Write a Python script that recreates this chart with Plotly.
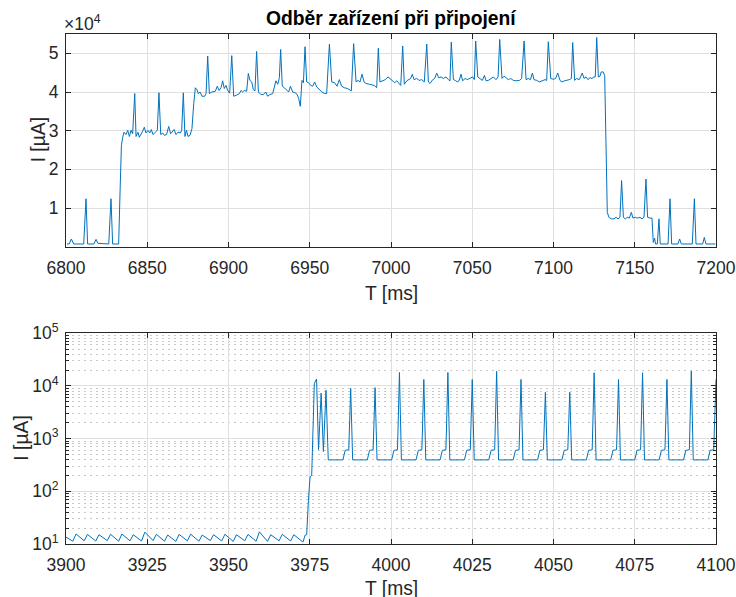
import plotly.graph_objects as go

# ---------------- data: top panel (linear) ----------------
t_top = [6800.6, 6802.0, 6803.3, 6804.7, 6810.9, 6812.3, 6813.3, 6817.2, 6818.5, 6819.7,
         6826.3, 6827.7, 6828.7, 6832.4, 6833.4, 6834.1, 6834.9, 6835.7, 6836.9, 6838.0,
         6839.0, 6840.0, 6841.0, 6842.3, 6843.1, 6844.3, 6845.1, 6846.4, 6847.2, 6848.2,
         6849.2, 6850.5, 6851.5, 6852.5, 6853.5, 6855.0, 6856.2, 6857.2, 6858.3, 6859.5,
         6860.5, 6861.9, 6863.2, 6864.4, 6865.4, 6866.5, 6867.7, 6868.9, 6870.4, 6871.2,
         6872.2, 6873.2, 6874.1, 6875.1, 6876.3, 6877.5, 6878.6, 6879.6, 6880.6, 6881.4,
         6882.5, 6883.7, 6885.3, 6886.2, 6887.2, 6888.2, 6889.8, 6891.9, 6893.1, 6894.2,
         6895.4, 6896.4, 6897.4, 6898.5, 6899.5, 6900.7, 6902.0, 6903.2, 6905.0, 6906.7,
         6907.7, 6908.7, 6909.7, 6911.2, 6912.2, 6913.2, 6914.3, 6915.3, 6916.3, 6917.3,
         6918.4, 6919.8, 6921.4, 6922.9, 6924.1, 6925.3, 6927.2, 6928.2, 6929.2, 6930.3,
         6931.3, 6932.1, 6933.1, 6934.4, 6935.8, 6937.0, 6938.1, 6939.5, 6941.0, 6942.2,
         6943.2, 6944.2, 6945.2, 6946.1, 6947.1, 6948.1, 6949.3, 6950.6, 6951.8, 6953.0,
         6954.3, 6955.9, 6957.5, 6959.2, 6960.4, 6962.1, 6963.5, 6965.3, 6966.8, 6968.2,
         6969.6, 6971.3, 6973.3, 6975.6, 6977.0, 6978.5, 6979.7, 6980.9, 6982.2, 6983.4,
         6984.6, 6986.7, 6989.7, 6991.2, 6992.2, 6993.2, 6994.9, 6996.5, 6998.2, 6999.4,
         7001.0, 7002.3, 7003.5, 7004.7, 7006.0, 7007.2, 7008.2, 7009.7, 7010.9, 7012.1,
         7013.1, 7014.2, 7015.8, 7017.4, 7018.9, 7020.5, 7022.0, 7023.0, 7024.0, 7025.7,
         7026.9, 7028.1, 7029.3, 7030.8, 7032.2, 7033.9, 7035.3, 7036.3, 7037.1, 7038.4,
         7039.6, 7040.8, 7041.9, 7043.1, 7044.1, 7045.6, 7047.0, 7048.6, 7050.3, 7051.3,
         7052.1, 7053.4, 7054.8, 7056.2, 7057.5, 7058.5, 7059.9, 7061.4, 7063.0, 7064.6,
         7065.9, 7066.9, 7068.3, 7069.6, 7070.8, 7072.2, 7073.7, 7075.3, 7077.0, 7079.0,
         7080.4, 7081.9, 7083.1, 7084.5, 7085.8, 7087.0, 7088.0, 7089.7, 7091.3, 7092.7,
         7094.8, 7095.8, 7096.8, 7098.3, 7099.9, 7101.3, 7102.6, 7104.0, 7105.2, 7106.9,
         7108.5, 7109.7, 7111.0, 7111.8, 7113.0, 7114.2, 7115.9, 7117.7, 7118.8, 7120.0,
         7121.2, 7122.5, 7123.7, 7124.9, 7125.7, 7126.6, 7127.6, 7128.6, 7129.4, 7130.5,
         7131.5, 7132.5, 7133.1, 7134.1, 7135.6, 7137.2, 7138.5, 7139.7, 7140.9, 7141.9,
         7143.0, 7144.2, 7145.4, 7146.7, 7147.9, 7148.9, 7150.4, 7151.6, 7153.2, 7154.5,
         7155.7, 7156.9, 7157.9, 7159.4, 7160.6, 7161.4, 7162.2, 7162.8, 7163.9, 7164.9,
         7165.7, 7170.5, 7171.7, 7172.7, 7176.6, 7177.6, 7178.7, 7185.4, 7186.7, 7187.7,
         7191.8, 7192.8, 7193.8, 7199.6]
i_top = [700, 700, 2000, 700, 700, 12400, 700, 700, 1900, 860,
         700, 12400, 700, 700, 16200, 26200, 28300, 29600, 29000, 30100,
         28500, 30100, 29200, 39600, 28500, 29600, 28300, 29200, 29900, 30900,
         29400, 30100, 29400, 30300, 29000, 29600, 30100, 39800, 29000, 29400,
         28800, 29000, 31100, 29200, 29600, 30300, 29000, 29600, 29400, 30100,
         39800, 28500, 30100, 28500, 28800, 30500, 37000, 41100, 40600, 39600,
         40000, 38900, 38900, 39600, 49300, 39600, 40000, 40200, 41500, 40400,
         41100, 42900, 40900, 41700, 40400, 39700, 49400, 38900, 39200, 39600,
         40400, 40000, 40400, 40200, 44800, 43000, 42600, 40600, 40300, 50500,
         40000, 39400, 39300, 40000, 38900, 39300, 39600, 41100, 42900, 42000,
         43700, 51000, 41500, 41100, 40600, 40000, 41500, 40000, 39800, 39400,
         38300, 36300, 43000, 42400, 51700, 42600, 42400, 41700, 41500, 42600,
         41300, 40600, 40000, 39600, 39600, 52400, 42600, 42400, 41500, 43200,
         41500, 41100, 40900, 40300, 52500, 42600, 43000, 42600, 44600, 42600,
         42200, 42000, 41700, 41100, 51300, 42600, 43000, 43200, 43900, 43400,
         43000, 42400, 42900, 42200, 41700, 51900, 42000, 42900, 43200, 43500,
         44600, 43200, 43500, 43000, 43200, 42600, 52400, 42600, 42200, 43200,
         43500, 44900, 43700, 43900, 43500, 43900, 43200, 42900, 52900, 43200,
         43000, 42600, 42900, 44600, 42900, 43500, 43200, 43500, 43900, 43200,
         53200, 43900, 43500, 43000, 44300, 42900, 43000, 43500, 43900, 43200,
         43900, 53600, 43500, 44100, 43700, 43200, 43500, 43000, 42900, 43000,
         43500, 53200, 43200, 43500, 43200, 44900, 43200, 43000, 42600, 42900,
         43200, 43000, 53000, 43500, 43300, 43500, 44900, 43000, 42600, 42900,
         43000, 43200, 43500, 52800, 43000, 43500, 43200, 44900, 43500, 43900,
         43200, 43700, 43500, 43900, 43900, 54100, 43900, 44100, 45200, 45200,
         44300, 18000, 8900, 7600, 7200, 7200, 7600, 7200, 7600, 17100,
         7600, 7200, 7600, 7400, 8900, 7400, 7600, 7400, 7600, 7200,
         7600, 17500, 7600, 7400, 7400, 1100, 2200, 700, 700, 7200,
         700, 700, 12400, 700, 700, 2000, 700, 700, 12400, 700,
         700, 2400, 700, 700]

# ---------------- data: bottom panel (log) ----------------
t_bot = [3900.0, 3902.1, 3903.1, 3905.6, 3906.6, 3909.15, 3910.15, 3912.7, 3913.7, 3916.2,
         3917.2, 3919.7, 3920.7, 3923.25, 3924.25, 3926.8, 3927.8, 3930.3, 3931.3, 3933.8,
         3934.8, 3937.35, 3938.35, 3940.9, 3941.9, 3944.4, 3945.4, 3947.9, 3948.9, 3951.45,
         3952.45, 3955.0, 3956.0, 3958.5, 3959.5, 3962.0, 3963.0, 3965.55, 3966.55, 3969.1,
         3970.1, 3972.9, 3973.6, 3974.05, 3974.6, 3975.1, 3975.6, 3976.4, 3976.9, 3977.1,
         3977.7, 3978.5, 3979.2, 3980.0, 3980.7,
         3985.2, 3985.9, 3987.0, 3987.6, 3988.2,
         3992.7, 3993.4, 3994.5, 3995.1, 3995.7,
         4000.2, 4000.9, 4002.0, 4002.6, 4003.2,
         4007.7, 4008.4, 4009.5, 4010.1, 4010.7,
         4015.1, 4015.8, 4016.9, 4017.5, 4018.1,
         4022.6, 4023.3, 4024.4, 4025.0, 4025.6,
         4030.1, 4030.8, 4031.9, 4032.5, 4033.1,
         4037.6, 4038.3, 4039.4, 4040.0, 4040.6,
         4045.1, 4045.8, 4046.9, 4047.5, 4048.1,
         4052.6, 4053.3, 4054.4, 4055.0, 4055.6,
         4060.1, 4060.8, 4061.9, 4062.5, 4063.1,
         4067.6, 4068.3, 4069.4, 4070.0, 4070.6,
         4075.0, 4075.7, 4076.8, 4077.4, 4078.0,
         4082.5, 4083.2, 4084.3, 4084.9, 4085.5,
         4090.0, 4090.7, 4091.8, 4092.4, 4093.0,
         4097.5, 4098.2, 4099.3, 4100.0]
i_bot = [13.5, 11.3, 15.5, 11.5, 15.2, 11.4, 15.0, 11.6, 15.3, 11.3,
         15.5, 11.5, 15.0, 11.4, 16.8, 11.6, 15.3, 11.3, 14.8, 11.2,
         15.2, 11.5, 15.4, 11.3, 14.8, 11.6, 15.0, 11.4, 15.3, 11.2,
         15.0, 11.5, 15.2, 11.3, 17.0, 11.2, 15.0, 11.5, 15.3, 11.4,
         15.0, 10.9, 14.8, 15.0, 68, 189, 200, 11000, 13000, 13500,
         620, 7300, 570, 8300, 395,
         395, 600, 615, 9000, 395,
         395, 600, 615, 9300, 395,
         395, 600, 615, 18000, 395,
         395, 600, 615, 13300, 395,
         395, 600, 615, 18000, 395,
         395, 600, 615, 13300, 395,
         395, 600, 615, 18900, 395,
         395, 600, 615, 13300, 395,
         395, 600, 615, 7600, 395,
         395, 600, 615, 7600, 395,
         395, 600, 615, 17800, 395,
         395, 600, 615, 13300, 395,
         395, 600, 615, 17800, 395,
         395, 600, 615, 13300, 395,
         395, 600, 615, 19200, 395,
         395, 600, 615, 13300]

top_yticks = [10000, 20000, 30000, 40000, 50000]
top_ytext = ["1", "2", "3", "4", "5"]
bot_yticks = [10, 100, 1000, 10000, 100000]
bot_ytext = ["10<sup>1</sup>", "10<sup>2</sup>", "10<sup>3</sup>", "10<sup>4</sup>", "10<sup>5</sup>"]
title_text = "Odběr zařízení při připojení"
xlabel = "T [ms]"
ylabel = "I [µA]"

# ---------------- figure ----------------
LINE = "#0072BD"
AX = "#262626"
GRID = "#dfdfdf"
MINOR = "#c8c8c8"
FONT = "Liberation Sans, Arial, Helvetica, sans-serif"
TICKSZ = 17.5
LABSZ = 19.3

W, H = 736, 597
ML, MR, MT, MB = 66, 20, 34, 53
ph = H - MT - MB
top_lo = (H - MB - 246.7) / ph
bot_hi = (H - MB - 333.3) / ph

fig = go.Figure()
fig.add_trace(go.Scatter(x=t_top, y=i_top, mode="lines",
                         line=dict(color=LINE, width=1), xaxis="x", yaxis="y",
                         showlegend=False, hoverinfo="skip"))
fig.add_trace(go.Scatter(x=t_bot, y=i_bot, mode="lines",
                         line=dict(color=LINE, width=1), xaxis="x2", yaxis="y2",
                         showlegend=False, hoverinfo="skip"))

common = dict(showline=True, linecolor=AX, linewidth=1, mirror="allticks",
              ticks="inside", tickcolor=AX, ticklen=5, tickwidth=1, automargin=False,
              showgrid=True, gridcolor=GRID, gridwidth=1, zeroline=False,
              tickfont=dict(family=FONT, size=TICKSZ, color=AX))

fig.update_layout(
    width=W, height=H, autosize=False, paper_bgcolor="white", plot_bgcolor="white",
    margin=dict(l=ML, r=MR, t=MT, b=MB, autoexpand=False),
    font=dict(family=FONT, color=AX),
    xaxis=dict(domain=[0, 1], anchor="y", range=[6800, 7200], tick0=6800, dtick=50,
               ticklabelstandoff=5, **common),
    yaxis=dict(domain=[top_lo, 1], anchor="x", range=[0, 55000],
               tickmode="array", tickvals=top_yticks, ticktext=top_ytext,
               ticklabelstandoff=3, **common),
    xaxis2=dict(domain=[0, 1], anchor="y2", range=[3900, 4100], tick0=3900, dtick=25,
                ticklabelstandoff=5, **common),
    yaxis2=dict(domain=[0, bot_hi], anchor="x2", type="log", range=[1, 5],
                tickmode="array", tickvals=bot_yticks, ticktext=bot_ytext,
                ticklabelstandoff=3,
                minor=dict(dtick="D1", ticks="inside", ticklen=3, tickcolor=AX,
                           showgrid=True, gridcolor=MINOR, griddash="2px,4px", gridwidth=1),
                **common),
)

ann = []
ann.append(dict(text="<b>" + title_text + "</b>", xref="paper", yref="paper",
                x=0.5, y=1, yshift=16, xanchor="center", yanchor="middle",
                showarrow=False, font=dict(size=LABSZ, family=FONT, color="black")))
ann.append(dict(text="×10<sup>4</sup>", xref="paper", yref="paper", x=0, y=1,
                xanchor="left", yanchor="bottom", yshift=-2, xshift=-4, showarrow=False,
                font=dict(size=TICKSZ, family=FONT, color=AX)))
# axis titles
ann.append(dict(text=xlabel, xref="paper", yref="paper", x=0.5, y=top_lo,
                yshift=-47, xanchor="center", yanchor="middle", showarrow=False,
                font=dict(size=LABSZ, family=FONT, color=AX)))
ann.append(dict(text=xlabel, xref="paper", yref="paper", x=0.5, y=0,
                yshift=-44, xanchor="center", yanchor="middle", showarrow=False,
                font=dict(size=LABSZ, family=FONT, color=AX)))
ann.append(dict(text=ylabel, xref="paper", yref="paper", x=0, y=(top_lo + 1) / 2,
                xshift=-28, xanchor="center", yanchor="middle", textangle=-90,
                showarrow=False, font=dict(size=LABSZ, family=FONT, color=AX)))
ann.append(dict(text=ylabel, xref="paper", yref="paper", x=0, y=bot_hi / 2,
                xshift=-44, xanchor="center", yanchor="middle", textangle=-90,
                showarrow=False, font=dict(size=LABSZ, family=FONT, color=AX)))
fig.update_layout(annotations=ann)

fig.write_html("out.html", config={"responsive": False, "displayModeBar": False},
               post_script="document.body.style.margin='0';document.body.style.overflow='hidden';")
